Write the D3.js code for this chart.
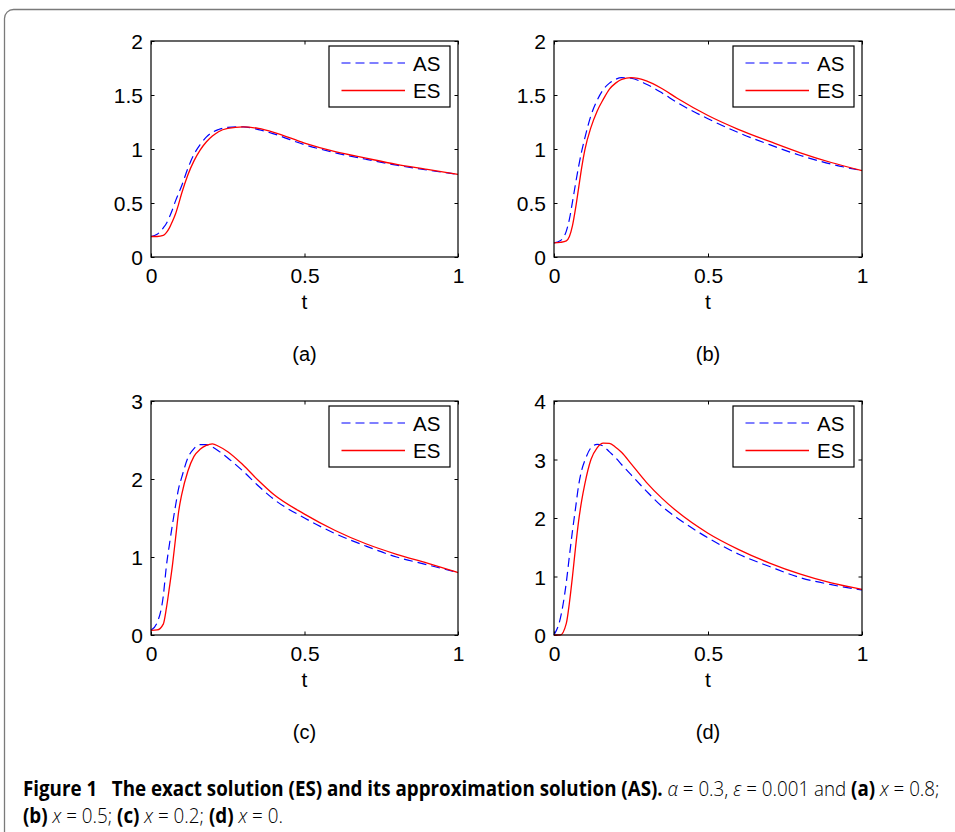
<!DOCTYPE html>
<html>
<head>
<meta charset="utf-8">
<script src="https://cdn.jsdelivr.net/npm/d3@7"></script>
<style>
  body { margin: 0; background: #fff; }
  svg { display: block; }
</style>
</head>
<body>
<div id="fig"></div>
<script>
// sample times shared by every curve
var tGrid = [0, 0.02, 0.04, 0.05, 0.06, 0.07, 0.08, 0.09, 0.1, 0.12, 0.14, 0.16, 0.18,
             0.2, 0.22, 0.25, 0.3, 0.35, 0.4, 0.5, 0.6, 0.7, 0.8, 0.9, 1];

// (a) x = 0.8
var asA = [0.19, 0.21, 0.27, 0.31, 0.37, 0.44, 0.52, 0.59, 0.66, 0.82, 0.95, 1.04, 1.11,
           1.155, 1.18, 1.20, 1.205, 1.18, 1.14, 1.04, 0.965, 0.905, 0.85, 0.805, 0.765];
var esA = [0.19, 0.19, 0.20, 0.225, 0.27, 0.33, 0.40, 0.49, 0.59, 0.76, 0.89, 0.99, 1.065,
           1.12, 1.16, 1.19, 1.205, 1.19, 1.155, 1.055, 0.975, 0.915, 0.858, 0.812, 0.765];
// (b) x = 0.5
var asB = [0.13, 0.15, 0.24, 0.35, 0.51, 0.68, 0.84, 0.98, 1.1, 1.31, 1.45, 1.55, 1.61,
           1.645, 1.66, 1.655, 1.6, 1.52, 1.43, 1.28, 1.15, 1.04, 0.94, 0.86, 0.80];
var esB = [0.13, 0.135, 0.15, 0.19, 0.29, 0.45, 0.64, 0.83, 0.99, 1.2, 1.35, 1.46, 1.555,
           1.61, 1.645, 1.66, 1.63, 1.56, 1.47, 1.31, 1.18, 1.07, 0.965, 0.875, 0.80];
// (c) x = 0.2
var asC = [0.06, 0.16, 0.50, 0.88, 1.16, 1.42, 1.66, 1.88, 2.02, 2.27, 2.39, 2.44, 2.44,
           2.41, 2.36, 2.27, 2.1, 1.91, 1.74, 1.5, 1.3, 1.14, 1.0, 0.9, 0.80];
var esC = [0.06, 0.065, 0.14, 0.34, 0.61, 0.9, 1.24, 1.58, 1.8, 2.1, 2.29, 2.38, 2.43,
           2.45, 2.42, 2.35, 2.18, 1.98, 1.8, 1.55, 1.34, 1.17, 1.035, 0.92, 0.80];
// (d) x = 0
var asD = [0, 0.27, 0.9, 1.35, 1.78, 2.17, 2.56, 2.82, 2.98, 3.2, 3.26, 3.23, 3.13,
           3.03, 2.91, 2.74, 2.46, 2.2, 2.0, 1.66, 1.38, 1.17, 0.98, 0.86, 0.77];
var esD = [0, 0, 0.2, 0.55, 1.0, 1.5, 1.95, 2.3, 2.58, 3.0, 3.2, 3.28, 3.275,
           3.21, 3.12, 2.93, 2.61, 2.34, 2.11, 1.74, 1.46, 1.23, 1.04, 0.89, 0.78];

var xTicks = [0, 0.5, 1];
var yTicksAB = [0, 0.5, 1, 1.5, 2];
var yTicksC = [0, 1, 2, 3];
var yTicksD = [0, 1, 2, 3, 4];
var seriesNames = ["AS", "ES"];
var panelLabels = ["(a)", "(b)", "(c)", "(d)"];

var svgWidth = 955;
var svgHeight = 832;
var plotFont = "Liberation Sans, Arial, sans-serif";

var svg = d3.select("#fig")
    .append("svg")
    .attr("width", svgWidth)
    .attr("height", svgHeight);

// rounded frame of the figure box
svg.append("rect")
    .attr("x", 4.5).attr("y", 9.5)
    .attr("width", 1000).attr("height", 900)
    .attr("rx", 9)
    .attr("fill", "none")
    .attr("stroke", "#7a7a7a")
    .attr("stroke-width", 1.3);

var panels = [
    { left: 151, top: 41, width: 307, height: 216, yMax: 2, yTicks: yTicksAB, as: asA, es: esA, label: panelLabels[0] },
    { left: 554, top: 41, width: 308, height: 216, yMax: 2, yTicks: yTicksAB, as: asB, es: esB, label: panelLabels[1] },
    { left: 151, top: 401, width: 307, height: 234, yMax: 3, yTicks: yTicksC, as: asC, es: esC, label: panelLabels[2] },
    { left: 554, top: 401, width: 308, height: 234, yMax: 4, yTicks: yTicksD, as: asD, es: esD, label: panelLabels[3] }
];

function styleTicks(a, dy) {
    a.select(".domain").remove();
    a.attr("font-size", null).attr("font-family", null);
    a.selectAll(".tick text")
        .attr("font-family", plotFont)
        .attr("font-size", 21)
        .attr("fill", "#000")
        .attr("dy", dy);
}

panels.forEach(function (p) {
    var g = svg.append("g")
        .attr("transform", `translate(${p.left}, ${p.top})`);

    var x = d3.scaleLinear().domain([0, 1]).range([0, p.width]);
    var y = d3.scaleLinear().domain([0, p.yMax]).range([p.height, 0]);

    // matlab style: ticks point inward on all four sides
    var fmt = d => String(d);
    g.append("g")
        .attr("transform", `translate(0, ${p.height})`)
        .call(d3.axisBottom(x).tickValues(xTicks).tickFormat(fmt).tickSize(-3.5).tickPadding(11))
        .call(a => styleTicks(a, "0.71em"));
    g.append("g")
        .call(d3.axisLeft(y).tickValues(p.yTicks).tickFormat(fmt).tickSize(-3.5).tickPadding(8))
        .call(a => styleTicks(a, "0.36em"));
    g.append("g")
        .call(d3.axisTop(x).tickValues(xTicks).tickFormat("").tickSize(-3.5))
        .call(a => styleTicks(a, 0));
    g.append("g")
        .attr("transform", `translate(${p.width}, 0)`)
        .call(d3.axisRight(y).tickValues(p.yTicks).tickFormat("").tickSize(-3.5))
        .call(a => styleTicks(a, 0));

    var line = d3.line()
        .x((d, i) => x(tGrid[i]))
        .y(d => y(d))
        .curve(d3.curveMonotoneX);

    g.append("path")
        .datum(p.as)
        .attr("d", line)
        .attr("fill", "none")
        .attr("stroke", "#0000ff")
        .attr("stroke-width", 1.2)
        .attr("stroke-dasharray", "9,5");

    g.append("path")
        .datum(p.es)
        .attr("d", line)
        .attr("fill", "none")
        .attr("stroke", "#ff0000")
        .attr("stroke-width", 1.3);

    // axes box
    g.append("rect")
        .attr("x", 0).attr("y", 0)
        .attr("width", p.width).attr("height", p.height)
        .attr("fill", "none")
        .attr("stroke", "#000")
        .attr("stroke-width", 1.2);

    // legend
    var lg = g.append("g")
        .attr("transform", `translate(${p.width - 129}, 5)`);
    lg.append("rect")
        .attr("width", 121).attr("height", 61)
        .attr("fill", "#fff")
        .attr("stroke", "#000")
        .attr("stroke-width", 1.2);
    seriesNames.forEach(function (name, i) {
        var yy = 17 + i * 27.5;
        lg.append("line")
            .attr("x1", 12.5).attr("x2", 76)
            .attr("y1", yy).attr("y2", yy)
            .attr("stroke", i === 0 ? "#0000ff" : "#ff0000")
            .attr("stroke-width", i === 0 ? 1.2 : 1.3)
            .attr("stroke-dasharray", i === 0 ? "9,5" : null);
        lg.append("text")
            .attr("x", 84)
            .attr("y", yy + 7.5)
            .attr("font-family", plotFont)
            .attr("font-size", 20.5)
            .text(name);
    });

    // axis label
    g.append("text")
        .attr("x", p.width / 2)
        .attr("y", p.height + 52)
        .attr("text-anchor", "middle")
        .attr("font-family", plotFont)
        .attr("font-size", 21)
        .text("t");

    // panel letter
    g.append("text")
        .attr("x", p.width / 2)
        .attr("y", p.top < 100 ? 320 : 338)
        .attr("text-anchor", "middle")
        .attr("font-family", plotFont)
        .attr("font-size", 20)
        .text(p.label);
});

// caption: squeezed horizontally to mimic the narrow journal face
var cap = svg.append("g")
    .attr("font-family", "Open Sans, Noto Sans, sans-serif")
    .attr("font-size", 21)
    .attr("fill", "#000");

function captionLine(yPos, width, parts) {
    var holder = cap.append("g");
    var t = holder.append("text").attr("x", 0).attr("y", 0);
    parts.forEach(function (s) {
        var span = t.append("tspan").text(s[0]);
        if (s[1] === "b") span.attr("font-weight", "bold");
        if (s[1] === "l") span.attr("font-weight", 300);
        if (s[1] === "i") span.attr("font-style", "italic").attr("font-weight", 300);
    });
    var natural = t.node().getComputedTextLength();
    holder.attr("transform", `translate(23, ${yPos}) scale(${width / natural}, 1)`);
}

captionLine(796, 917, [
    ["Figure 1\u00a0\u00a0\u00a0The exact solution (ES) and its approximation solution (AS).", "b"],
    [" ", "l"], ["\u03b1", "i"], [" = 0.3, ", "l"], ["\u03b5", "i"], [" = 0.001 and ", "l"],
    ["(a)", "b"], [" ", "l"], ["x", "i"], [" = 0.8;", "l"]
]);
captionLine(823, 260, [
    ["(b)", "b"], [" ", "l"], ["x", "i"], [" = 0.5; ", "l"],
    ["(c)", "b"], [" ", "l"], ["x", "i"], [" = 0.2; ", "l"],
    ["(d)", "b"], [" ", "l"], ["x", "i"], [" = 0.", "l"]
]);
</script>
</body>
</html>
